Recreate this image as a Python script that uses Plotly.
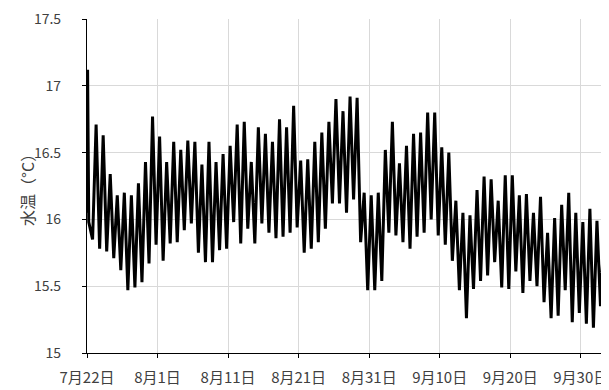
import plotly.graph_objects as go
from datetime import datetime, timedelta

# Start of record (first day) and the initial spike
start_date = "2023-07-22"
lead_hours = [0, 2, 6]
lead_values = [16.05, 17.12, 15.98]

# Daily maxima (day 1 .. day 74 after 7/22)
daily_max = [16.71, 16.63, 16.34, 16.18, 16.20, 16.18, 16.27, 16.43, 16.77, 16.62,
             16.43, 16.58, 16.52, 16.59, 16.58, 16.41, 16.58, 16.43, 16.49, 16.55,
             16.71, 16.73, 16.43, 16.69, 16.64, 16.58, 16.75, 16.69, 16.85, 16.44,
             16.45, 16.58, 16.65, 16.73, 16.90, 16.81, 16.92, 16.91, 16.20, 16.18,
             16.20, 16.52, 16.73, 16.42, 16.55, 16.64, 16.65, 16.80, 16.80, 16.54,
             16.50, 16.14, 16.05, 16.03, 16.22, 16.32, 16.30, 16.14, 16.33, 16.33,
             16.18, 16.19, 16.05, 16.17, 15.90, 16.01, 16.11, 16.20, 16.05, 15.98,
             16.08, 15.99, 15.90, 15.83]

# Daily minima (day 0 .. day 73 after 7/22)
daily_min = [15.85, 15.78, 15.76, 15.71, 15.62, 15.47, 15.49, 15.53, 15.67, 15.81,
             15.69, 15.82, 15.83, 15.92, 15.97, 15.75, 15.68, 15.68, 15.77, 15.78,
             15.98, 15.82, 15.93, 15.82, 15.97, 15.90, 15.86, 15.87, 15.90, 15.94,
             15.75, 15.78, 15.83, 15.93, 16.12, 16.12, 16.05, 16.15, 15.83, 15.47,
             15.47, 15.54, 15.90, 15.88, 15.83, 15.78, 15.87, 15.90, 16.00, 15.88,
             15.81, 15.69, 15.47, 15.26, 15.48, 15.54, 15.58, 15.68, 15.49, 15.48,
             15.61, 15.45, 15.54, 15.50, 15.38, 15.26, 15.28, 15.47, 15.23, 15.30,
             15.22, 15.19, 15.35, 15.37]

max_hour = 7
min_hour = 19

tick_dates = ["2023-07-22", "2023-08-01", "2023-08-11", "2023-08-21",
              "2023-08-31", "2023-09-10", "2023-09-20", "2023-09-30"]
tick_labels = ["7月22日", "8月1日", "8月11日", "8月21日",
               "8月31日", "9月10日", "9月20日", "9月30日"]
y_ticks = [15, 15.5, 16, 16.5, 17, 17.5]
y_title = "水温（°C）"

t0 = datetime.fromisoformat(start_date)
times, temps = [], []
for h, v in zip(lead_hours, lead_values):
    times.append(t0 + timedelta(hours=h))
    temps.append(v)
for d in range(len(daily_min)):
    times.append(t0 + timedelta(days=d, hours=min_hour))
    temps.append(daily_min[d])
    if d < len(daily_max):
        times.append(t0 + timedelta(days=d + 1, hours=max_hour))
        temps.append(daily_max[d])

font_fam = "Noto Sans CJK JP, Noto Sans, sans-serif"
txt_col = "#404040"

fig = go.Figure()
fig.add_trace(go.Scatter(x=times, y=temps, mode="lines",
                         line=dict(color="#000000", width=3),
                         showlegend=False))

# page body has an 8px margin, so the figure is sized/offset to compensate
fig.update_layout(
    width=601, height=382,
    margin=dict(l=79, r=0, t=11, b=37),
    paper_bgcolor="white", plot_bgcolor="white",
    font=dict(family=font_fam, size=14, color=txt_col),
    xaxis=dict(
        range=["2023-07-22", "2023-10-04"],
        tickvals=tick_dates, ticktext=tick_labels,
        showgrid=True, gridcolor="#d9d9d9", gridwidth=1,
        showline=True, linecolor="#000000", linewidth=1.2,
        ticks="outside", ticklen=4, tickcolor="#000000",
        tickfont=dict(size=15, color=txt_col),
        ticklabelstandoff=7,
        ticklabeloverflow="allow",
        zeroline=False,
    ),
    yaxis=dict(
        range=[15, 17.5], tickvals=y_ticks,
        showgrid=True, gridcolor="#d9d9d9", gridwidth=1,
        showline=True, linecolor="#000000", linewidth=1.2,
        ticks="outside", ticklen=4, tickcolor="#000000",
        tickfont=dict(size=14, color=txt_col),
        ticklabelstandoff=18,
        ticklabeloverflow="allow",
        zeroline=False,
    ),
    annotations=[dict(
        text=y_title, textangle=-90, showarrow=False,
        xref="paper", yref="paper", x=0, y=0.5,
        xanchor="center", yanchor="middle", xshift=-60,
        font=dict(size=16, color=txt_col, family=font_fam),
    )],
)

fig.write_html("out.html")
